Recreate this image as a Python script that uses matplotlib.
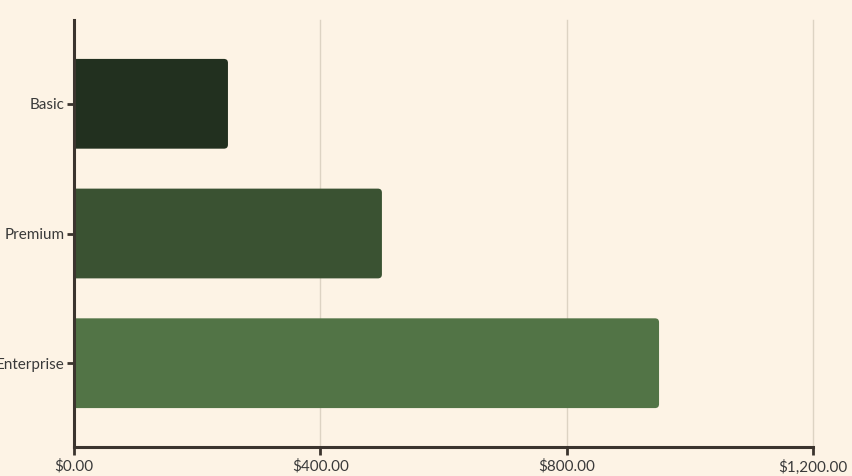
import matplotlib.pyplot as plt
from matplotlib.patches import FancyBboxPatch
from matplotlib.ticker import FuncFormatter

plans = ["Basic", "Premium", "Enterprise"]
prices = [250, 500, 950]
colors = ["#22301f", "#3a5232", "#527446"]
xticks = [0, 400, 800, 1200]

bg = "#fdf3e5"
ink = "#3b342e"

plt.rcParams['font.family'] = ['Lato', 'DejaVu Sans']

fig = plt.figure(figsize=(8.53, 4.76), dpi=100, facecolor=bg)
ax = fig.add_axes([74/853, 29/476, 739/853, 427/476], facecolor=bg)

ax.set_xlim(0, 1200)
ax.set_ylim(2.646, -0.646)

for i, (p, c) in enumerate(zip(prices, colors)):
    box = FancyBboxPatch((-20, i - 0.346), p + 20, 0.692,
                         boxstyle="round,pad=0,rounding_size=6.5",
                         mutation_aspect=0.031/6.5,
                         facecolor=c, edgecolor="none", zorder=3)
    ax.add_patch(box)

ax.set_yticks(range(len(plans)))
ax.set_yticklabels(plans)
ax.set_xticks(xticks)
ax.xaxis.set_major_formatter(FuncFormatter(lambda v, _: f"${v:,.2f}"))

ax.grid(axis='x', color="#ddd3c3", linewidth=1, zorder=0)
for gl in ax.get_xgridlines():
    gl.set_clip_on(False)
for s in ['top', 'right']:
    ax.spines[s].set_visible(False)
for s in ['left', 'bottom']:
    ax.spines[s].set_color(ink)
    ax.spines[s].set_linewidth(2.2)
    ax.spines[s].set_zorder(4)

ax.tick_params(axis='both', colors=ink, labelcolor="#3a3a3a", labelsize=11,
               width=2, length=5)
ax.tick_params(axis='y', pad=2)
ax.tick_params(axis='x', length=6, pad=3)

fig.savefig("out.png", dpi=100, facecolor=bg)
